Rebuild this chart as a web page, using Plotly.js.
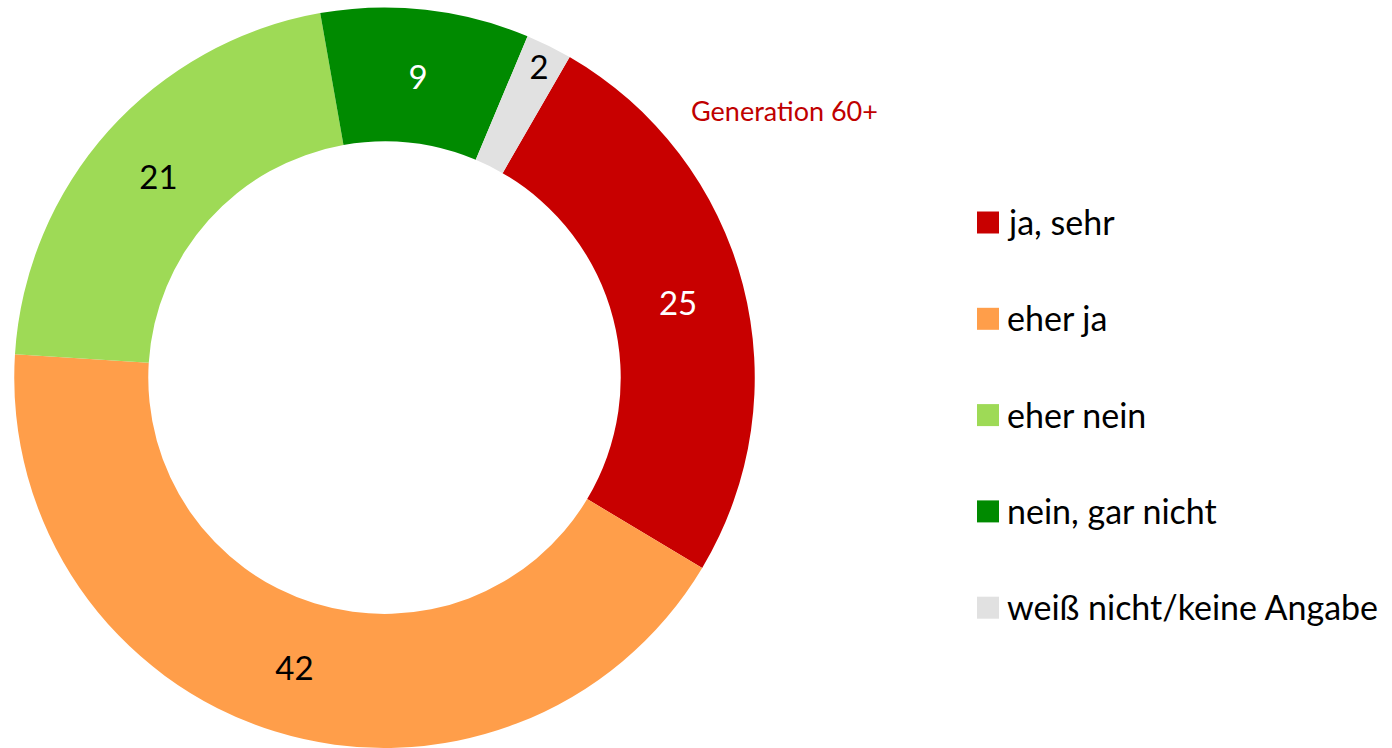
<!DOCTYPE html>
<html>
<head>
<meta charset="utf-8">
<script src="https://cdn.plot.ly/plotly-3.0.1.min.js"></script>
<style>html,body{margin:0;padding:0;background:#fff;}#chart{width:1392px;height:748px;}</style>
</head>
<body>
<div id="chart"></div>
<script>
const categories = ["ja, sehr", "eher ja", "eher nein", "nein, gar nicht", "weiß nicht/keine Angabe"];
const values = [25, 42, 21, 9, 2];
const colors = ["#C80000", "#FF9E4A", "#9EDA56", "#008A00", "#E1E1E1"];
const labelColors = ["#FFFFFF", "#000000", "#000000", "#FFFFFF", "#000000"];
const groupLabel = "Generation 60+";

const FONT = "Lato, 'Open Sans', sans-serif";

const pie = {
  type: "pie",
  labels: categories,
  values: values,
  marker: { colors: colors, line: { width: 0 } },
  hole: 0.638,
  sort: false,
  direction: "clockwise",
  rotation: 30,
  texttemplate: "%{value}",
  textposition: "inside",
  insidetextorientation: "horizontal",
  textfont: { family: FONT, size: 33, color: labelColors },
  domain: { x: [14 / 1392, 755 / 1392], y: [0, 0.99] },
  showlegend: false,
  hoverinfo: "label+value"
};

// custom legend (large square swatches, wide spacing)
const shapes = [];
const annotations = [];
const legX0 = 977 / 1392, legX1 = 999 / 1392;
const legTop = 222.5, legStep = 96.3, sq = 22;
categories.forEach((c, i) => {
  const cy = legTop + i * legStep;
  shapes.push({
    type: "rect", xref: "paper", yref: "paper",
    x0: legX0, x1: legX1,
    y0: 1 - (cy + sq / 2) / 748, y1: 1 - (cy - sq / 2) / 748,
    fillcolor: colors[i], line: { width: 0 }
  });
  annotations.push({
    xref: "paper", yref: "paper",
    x: 1005 / 1392, y: 1 - (cy - 1) / 748,
    xanchor: "left", yanchor: "middle",
    text: c, showarrow: false,
    font: { family: FONT, size: 34, color: "#000000" }
  });
});
annotations.push({
  xref: "paper", yref: "paper",
  x: 785 / 1392, y: 1 - 110 / 748,
  xanchor: "center", yanchor: "middle",
  text: groupLabel, showarrow: false,
  font: { family: FONT, size: 27, color: "#C00000" }
});

const layout = {
  width: 1392, height: 748,
  margin: { l: 0, r: 0, t: 0, b: 0 },
  paper_bgcolor: "#FFFFFF",
  plot_bgcolor: "#FFFFFF",
  showlegend: false,
  shapes: shapes,
  annotations: annotations
};

Plotly.newPlot("chart", [pie], layout, { displayModeBar: false, staticPlot: true });
</script>
</body>
</html>
